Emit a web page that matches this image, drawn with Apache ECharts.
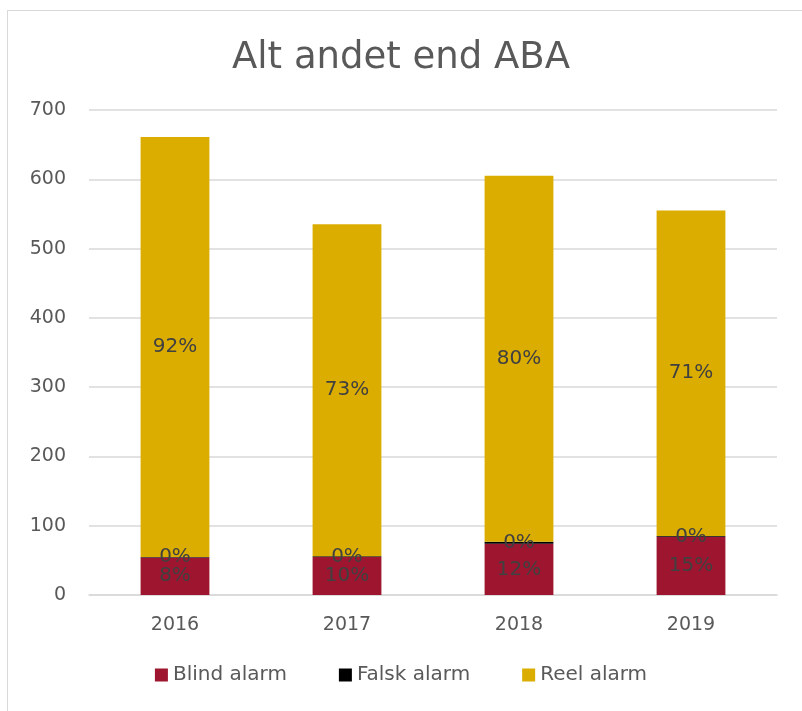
<!DOCTYPE html>
<html>
<head>
<meta charset="utf-8">
<script src="https://cdn.jsdelivr.net/npm/echarts@6/dist/echarts.min.js"></script>
<style>
    html, body { margin: 0; padding: 0; background: #fff; }
    .frame {
        position: absolute;
        left: 7px;
        top: 10px;
        width: 820px;
        height: 720px;
        border: 1px solid #d9d9d9;
        box-sizing: border-box;
    }
    #chart { position: absolute; left: 0; top: 0; width: 802px; height: 711px; }
</style>
</head>
<body>
<div class="frame"></div>
<div id="chart"></div>
<script>
// data
let years = ['2016', '2017', '2018', '2019'];
let blindValues = [54, 55, 74, 84];
let falskValues = [1, 1, 3, 1];
let reelValues = [606, 479, 528, 470];
// percentage labels as printed on the bars
let blindLabels = ['8%', '10%', '12%', '15%'];
let falskLabels = ['0%', '0%', '0%', '0%'];
let reelLabels = ['92%', '73%', '80%', '71%'];
let yTicks = [0, 100, 200, 300, 400, 500, 600, 700];

let fontName = "'DejaVu Sans', sans-serif";

function makeSeries(name, values, labels, color) {
    return {
        name: name,
        type: 'bar',
        stack: 'total',
        barWidth: '40%',
        data: values,
        itemStyle: { color: color },
        label: {
            show: true,
            position: 'inside',
            formatter: function (p) { return labels[p.dataIndex]; },
            color: '#404040',
            fontSize: 20,
            fontFamily: fontName,
        },
    };
}

let myChart = echarts.init(document.getElementById('chart'));
let option = {
    animation: false,
    title: {
        text: 'Alt andet end ABA',
        left: 'center',
        top: 35,
        textStyle: {
            fontSize: 37,
            fontWeight: 'normal',
            color: '#595959',
            fontFamily: fontName,
        },
    },
    legend: {
        bottom: 21,
        left: 'center',
        itemWidth: 13,
        itemHeight: 13,
        itemGap: 52,
        icon: 'rect',
        textStyle: { fontSize: 20, color: '#595959', fontFamily: fontName },
        data: ['Blind alarm', 'Falsk alarm', 'Reel alarm'],
    },
    grid: {
        left: 89,
        right: 25,
        top: 110,
        bottom: 116,
    },
    xAxis: {
        type: 'category',
        data: years,
        axisLine: { lineStyle: { color: '#d9d9d9', width: 1.5 } },
        axisTick: { show: false },
        axisLabel: {
            fontSize: 19,
            color: '#595959',
            margin: 21,
            fontFamily: fontName,
        },
    },
    yAxis: {
        type: 'value',
        min: yTicks[0],
        max: yTicks[yTicks.length - 1],
        interval: 100,
        axisLine: { show: false },
        axisTick: { show: false },
        splitLine: { lineStyle: { color: '#d9d9d9', width: 1.5 } },
        axisLabel: {
            fontSize: 19,
            color: '#595959',
            margin: 23,
            fontFamily: fontName,
        },
    },
    series: [
        makeSeries('Blind alarm', blindValues, blindLabels, '#9e1530'),
        makeSeries('Falsk alarm', falskValues, falskLabels, '#000000'),
        makeSeries('Reel alarm', reelValues, reelLabels, '#dbad00'),
    ],
};
myChart.setOption(option);
</script>
</body>
</html>
